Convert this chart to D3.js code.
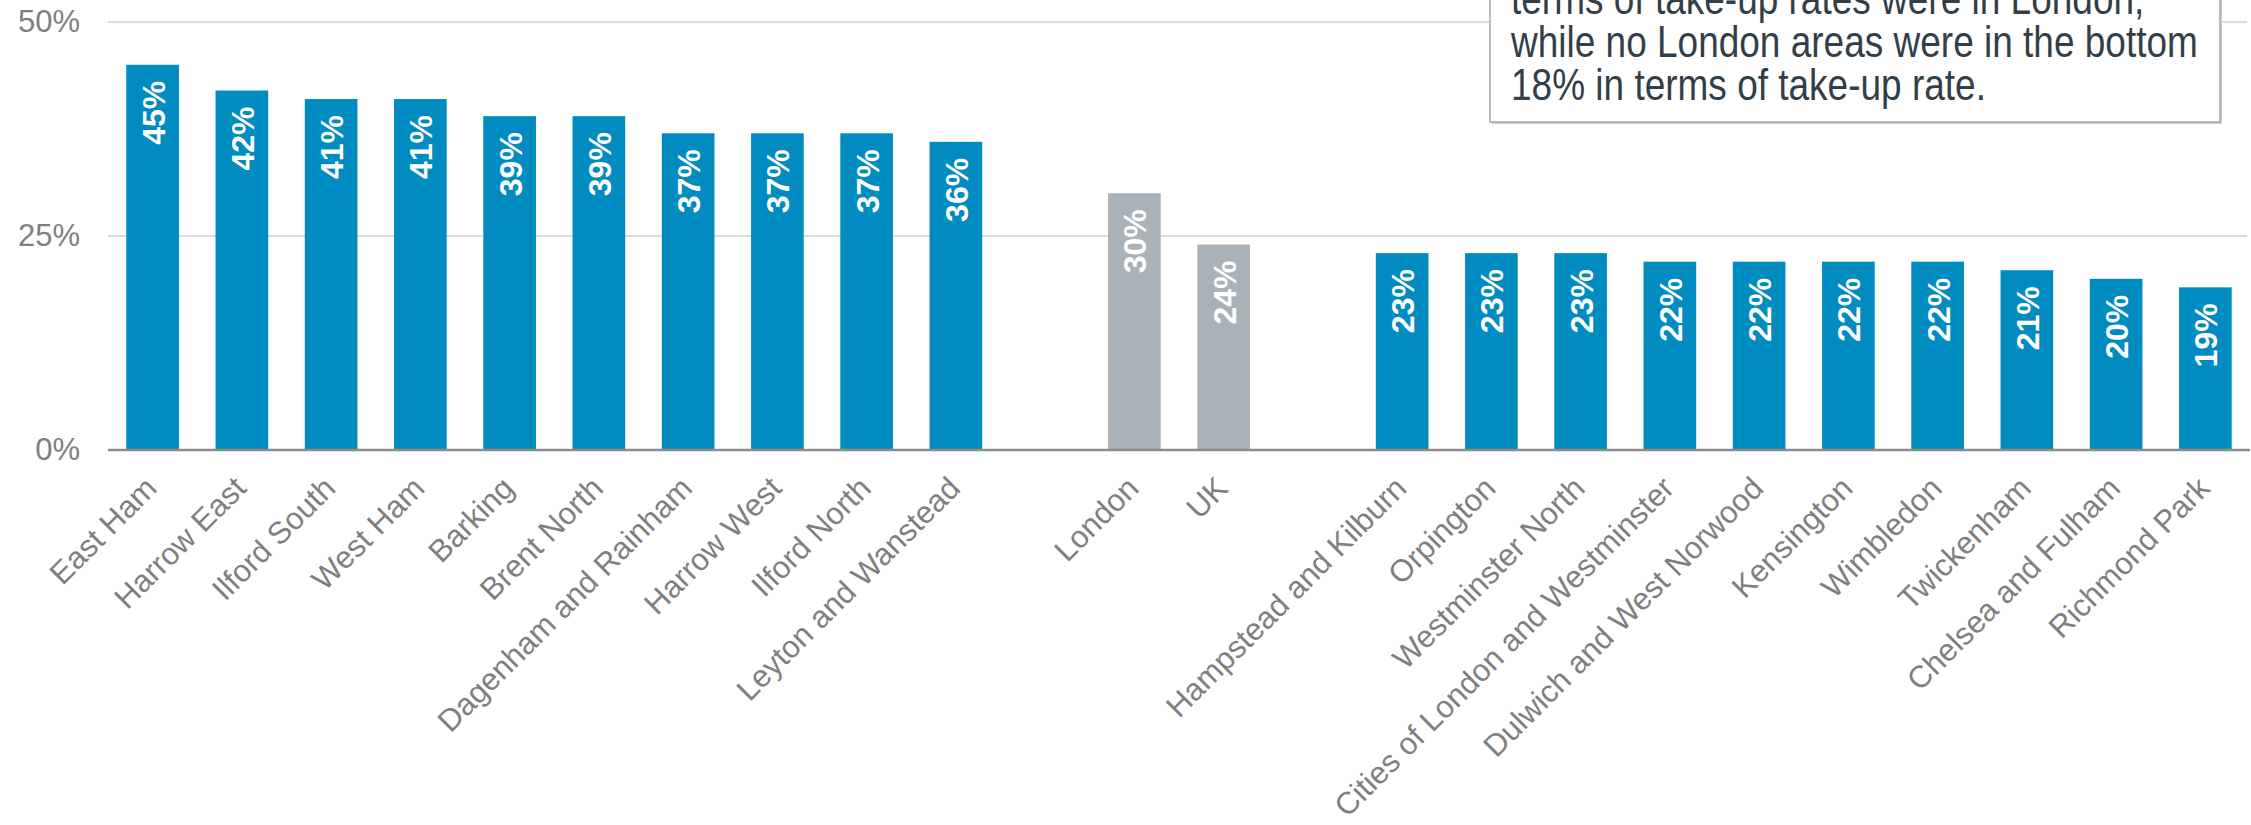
<!DOCTYPE html>
<html>
<head>
<meta charset="utf-8">
<script src="https://cdn.jsdelivr.net/npm/d3@7"></script>
<style>
  body { margin: 0; background: #fff; }
  svg text { font-family: "Liberation Sans", Arial, sans-serif; }
</style>
</head>
<body>
<svg id="chart"></svg>
<script>
var width = 2251,
    height = 825

// highest take-up areas
var topAreas = ["East Ham", "Harrow East", "Ilford South", "West Ham", "Barking",
    "Brent North", "Dagenham and Rainham", "Harrow West", "Ilford North", "Leyton and Wanstead"]
var topValues = [45, 42, 41, 41, 39, 39, 37, 37, 37, 36]

// benchmarks
var benchAreas = ["London", "UK"]
var benchValues = [30, 24]

// lowest take-up areas
var lowAreas = ["Hampstead and Kilburn", "Orpington", "Westminster North", "Cities of London and Westminster",
    "Dulwich and West Norwood", "Kensington", "Wimbledon", "Twickenham", "Chelsea and Fulham", "Richmond Park"]
var lowValues = [23, 23, 23, 22, 22, 22, 22, 21, 20, 19]

var yTicks = [0, 25, 50]

var noteLines = [
    "terms of take-up rates were in London,",
    "while no London areas were in the bottom",
    "18% in terms of take-up rate."
]

var blue = "#008bc1",
    grey = "#a8b2b8"

var rows = []
topAreas.forEach(function(d, i){ rows.push({name: d, value: topValues[i], color: blue}) })
benchAreas.forEach(function(d, i){ rows.push({name: d, value: benchValues[i], color: grey}) })
lowAreas.forEach(function(d, i){ rows.push({name: d, value: lowValues[i], color: blue}) })

// empty slots between the groups
var domain = topAreas.concat(["_gap1"], benchAreas, ["_gap2"], lowAreas)

var svg = d3.select("svg#chart")
    .attr("width", width)
    .attr("height", height)

var x = d3.scaleBand()
    .domain(domain)
    .range([108, 2250])
    .paddingInner(0.41)
    .paddingOuter(0.205)

var y = d3.scaleLinear()
    .domain([0, 50])
    .range([450, 22])

// gridlines
svg.append("g")
    .selectAll("line")
    .data(yTicks.filter(function(d){ return d > 0 }))
    .enter()
    .append("line")
    .attr("x1", 108)
    .attr("x2", 2247)
    .attr("y1", function(d){ return y(d) })
    .attr("y2", function(d){ return y(d) })
    .attr("stroke", "#dcdcdc")
    .attr("stroke-width", 2)

// y axis labels
var yAxis = d3.axisLeft(y)
    .tickValues(yTicks)
    .tickSize(0)
    .tickPadding(0)
    .tickFormat(function(d){ return d + "%" })

var yg = svg.append("g")
    .attr("transform", "translate(80,0)")
    .call(yAxis)
yg.select(".domain").remove()
yg.selectAll("text")
    .attr("font-size", 31)
    .attr("fill", "#7f7f7f")
    .attr("font-family", "Liberation Sans, Arial, sans-serif")

// bars
var bar = svg.selectAll("g.bar")
    .data(rows)
    .enter()
    .append("g")
    .attr("class", "bar")

bar.append("rect")
    .attr("x", function(d){ return x(d.name) })
    .attr("y", function(d){ return y(d.value) })
    .attr("width", x.bandwidth())
    .attr("height", function(d){ return y(0) - y(d.value) })
    .attr("fill", function(d){ return d.color })

bar.append("text")
    .attr("transform", function(d){
        return "translate(" + (x(d.name) + x.bandwidth() / 2 + 12) + "," + (y(d.value) + 16) + ") rotate(-90)"
    })
    .attr("text-anchor", "end")
    .attr("font-size", 32)
    .attr("font-weight", "bold")
    .attr("fill", "#fff")
    .text(function(d){ return d.value + "%" })

// x axis line
svg.append("line")
    .attr("x1", 108)
    .attr("x2", 2250)
    .attr("y1", y(0))
    .attr("y2", y(0))
    .attr("stroke", "#8c8c8c")
    .attr("stroke-width", 2.5)

// category labels
svg.append("g")
    .selectAll("text")
    .data(rows)
    .enter()
    .append("text")
    .attr("transform", function(d){
        return "translate(" + (x(d.name) + x.bandwidth() / 2 + 6) + ",490) rotate(-45)"
    })
    .attr("text-anchor", "end")
    .attr("font-size", 31)
    .attr("fill", "#7f7f7f")
    .text(function(d){ return d.name })

// annotation box
var note = svg.append("g")

note.append("rect")
    .attr("x", 1492)
    .attr("y", -200)
    .attr("width", 730)
    .attr("height", 324)
    .attr("fill", "#d0d0d0")

note.append("rect")
    .attr("x", 1490)
    .attr("y", -200)
    .attr("width", 730)
    .attr("height", 322)
    .attr("fill", "#fff")
    .attr("stroke", "#a6a6a6")
    .attr("stroke-width", 1.5)

note.selectAll("text")
    .data(noteLines)
    .enter()
    .append("text")
    .attr("transform", function(d, i){
        return "translate(1511," + (14 + i * 43) + ") scale(1,1.2)"
    })
    .attr("font-size", 37)
    .attr("fill", "#333f48")
    .text(function(d){ return d })
</script>
</body>
</html>
